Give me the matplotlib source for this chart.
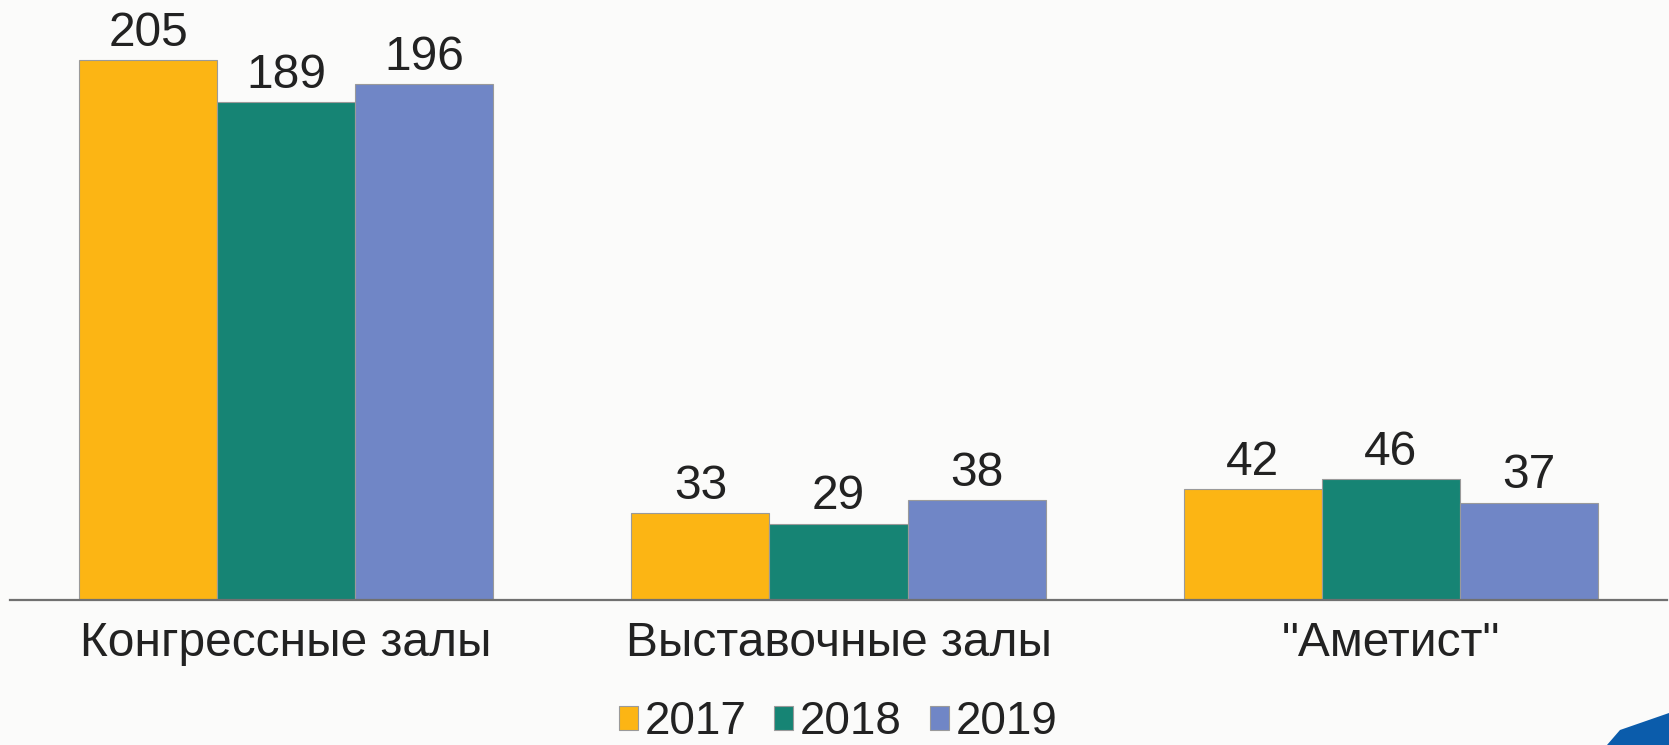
import numpy as np
import matplotlib.pyplot as plt
from matplotlib.patches import Polygon

categories = ['Конгрессные залы', 'Выставочные залы', '"Аметист"']
years = ['2017', '2018', '2019']
values_2017 = [205, 33, 42]
values_2018 = [189, 29, 46]
values_2019 = [196, 38, 37]
colors = ['#FCB514', '#168474', '#7086C6']

plt.rcParams['font.family'] = ['Liberation Sans', 'DejaVu Sans']

fig = plt.figure(figsize=(16.69, 7.45), dpi=100)
fig.patch.set_facecolor('#FBFBFA')
ax = fig.add_axes([10 / 1669, 1 - 600 / 745, 1657 / 1669, 600 / 745])
ax.set_facecolor('#FBFBFA')

x = np.arange(len(categories))
w = 0.25
series = [values_2017, values_2018, values_2019]
for i, (vals, yr, c) in enumerate(zip(series, years, colors)):
    bars = ax.bar(x + (i - 1) * w, vals, w, color=c, edgecolor='#9a9a9a',
                  linewidth=0.8, label=yr)
    ax.bar_label(bars, padding=3, fontsize=34.5, color='#222222')

ax.set_xlim(-0.5, 2.5)
ax.set_ylim(0, 227.8)
for s in ['top', 'right', 'left']:
    ax.spines[s].set_visible(False)
ax.spines['bottom'].set_color('#707070')
ax.spines['bottom'].set_linewidth(1.6)
ax.set_yticks([])
ax.set_xticks(x)
ax.set_xticklabels(categories, fontsize=34.5, color='#222222')
ax.tick_params(axis='x', length=0, pad=15)

# legend at the bottom, kept just inside the frame
ax.legend(loc='lower center', bbox_to_anchor=(838 / 1669, 0.001),
          bbox_transform=fig.transFigure, ncol=3, frameon=False, fontsize=33,
          handlelength=0.42, handleheight=0.42, handletextpad=0.15,
          columnspacing=0.6, labelcolor='#222222', borderpad=0,
          borderaxespad=0)

# decorative corner shape
corner = Polygon([(1607, 0), (1620, 15), (1669, 32), (1669, 0)],
                 closed=True, transform=None, facecolor='#0B5CAB',
                 edgecolor='none')
fig.patches.append(corner)

fig.savefig('out.png', dpi=100, facecolor=fig.get_facecolor())
